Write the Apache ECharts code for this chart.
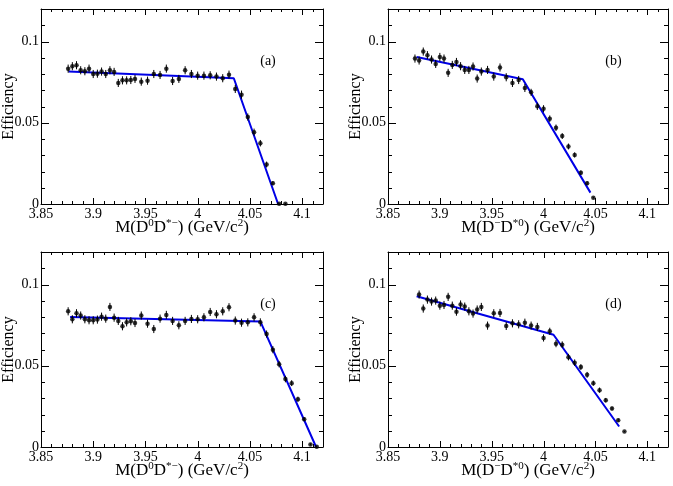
<!DOCTYPE html>
<html>
<head>
<meta charset="utf-8">
<script src="https://cdn.jsdelivr.net/npm/echarts@6/dist/echarts.min.js"></script>
<style>html,body{margin:0;padding:0;background:#fff;}#c{width:673px;height:486px;}</style>
</head>
<body>
<div id="c"></div>
<script>
// ---- data ----
const xTicks = [3.85, 3.9, 3.95, 4, 4.05, 4.1];
const yTicks = [0, 0.05, 0.1];

const xA = [3.876,3.880,3.884,3.888,3.892,3.896,3.900,3.904,3.908,3.912,3.916,3.920,3.924,3.928,3.932,3.936,3.940,3.946,3.952,3.958,3.964,3.970,3.976,3.982,3.988,3.994,4.000,4.006,4.012,4.018,4.024,4.030,4.036,4.042,4.048,4.054,4.060,4.066,4.072,4.078,4.084];
const yA = [0.0833,0.0848,0.0854,0.0823,0.0817,0.0833,0.0800,0.0802,0.0815,0.0800,0.0823,0.0813,0.0745,0.0761,0.0761,0.0763,0.0770,0.0753,0.0759,0.0800,0.0794,0.0833,0.0757,0.0770,0.0823,0.0800,0.0790,0.0790,0.0792,0.0784,0.0774,0.0796,0.0708,0.0673,0.0535,0.0442,0.0374,0.0243,0.0128,0.0002,0.0002];
const eA = [0.0025,0.0025,0.0025,0.0025,0.0025,0.0025,0.0025,0.0025,0.0025,0.0025,0.0025,0.0025,0.0025,0.0025,0.0025,0.0025,0.0025,0.0025,0.0025,0.0025,0.0025,0.0025,0.0025,0.0025,0.0025,0.0025,0.0025,0.0025,0.0025,0.0025,0.0025,0.0025,0.0025,0.0025,0.0022,0.0022,0.0020,0.0018,0.0012,0.0004,0.0004];
const fitXA = [3.8763, 4.0346, 4.0770];
const fitYA = [0.0815, 0.0774, 0.0];

const xB = [3.876,3.880,3.884,3.888,3.892,3.896,3.900,3.904,3.908,3.912,3.916,3.920,3.924,3.928,3.932,3.936,3.940,3.946,3.952,3.958,3.964,3.970,3.976,3.982,3.988,3.994,4.000,4.006,4.012,4.018,4.024,4.030,4.036,4.042,4.048];
const yB = [0.0895,0.0883,0.0938,0.0916,0.0889,0.0862,0.0905,0.0895,0.0807,0.0856,0.0874,0.0848,0.0825,0.0825,0.0846,0.0772,0.0815,0.0825,0.0784,0.0840,0.0780,0.0745,0.0763,0.0714,0.0687,0.0601,0.0586,0.0525,0.0469,0.0418,0.0354,0.0302,0.0193,0.0128,0.0039];
const eB = [0.0025,0.0025,0.0025,0.0025,0.0025,0.0025,0.0025,0.0025,0.0025,0.0025,0.0025,0.0025,0.0025,0.0025,0.0025,0.0025,0.0025,0.0025,0.0025,0.0025,0.0025,0.0025,0.0025,0.0025,0.0022,0.0022,0.0022,0.0020,0.0020,0.0018,0.0018,0.0016,0.0014,0.0012,0.0005];
const fitXB = [3.8776, 3.9800, 4.0452];
const fitYB = [0.0905, 0.0768, 0.0070];

const xC = [3.876,3.880,3.884,3.888,3.892,3.896,3.900,3.904,3.908,3.912,3.916,3.920,3.924,3.928,3.932,3.936,3.940,3.946,3.952,3.958,3.964,3.970,3.976,3.982,3.988,3.994,4.000,4.006,4.012,4.018,4.024,4.030,4.036,4.042,4.048,4.054,4.060,4.066,4.072,4.078,4.084,4.090,4.096,4.102,4.108,4.114];
const yC = [0.0835,0.0786,0.0823,0.0809,0.0786,0.0780,0.0780,0.0784,0.0802,0.0790,0.0862,0.0796,0.0776,0.0743,0.0767,0.0774,0.0763,0.0809,0.0759,0.0726,0.0790,0.0813,0.0776,0.0749,0.0776,0.0788,0.0786,0.0798,0.0831,0.0817,0.0835,0.0860,0.0778,0.0765,0.0767,0.0798,0.0767,0.0695,0.0599,0.0510,0.0418,0.0393,0.0294,0.0171,0.0016,0.0002];
const eC = [0.0025,0.0025,0.0025,0.0025,0.0025,0.0025,0.0025,0.0025,0.0025,0.0025,0.0025,0.0025,0.0025,0.0025,0.0025,0.0025,0.0025,0.0025,0.0025,0.0025,0.0025,0.0025,0.0025,0.0025,0.0025,0.0025,0.0025,0.0025,0.0025,0.0025,0.0025,0.0025,0.0025,0.0025,0.0025,0.0025,0.0025,0.0022,0.0022,0.0020,0.0020,0.0018,0.0016,0.0012,0.0006,0.0003];
const fitXC = [3.8779, 4.0601, 4.1134];
const fitYC = [0.0800, 0.0772, 0.0];

const xD = [3.880,3.884,3.888,3.892,3.896,3.900,3.904,3.908,3.912,3.916,3.920,3.924,3.928,3.932,3.936,3.940,3.946,3.952,3.958,3.964,3.970,3.976,3.982,3.988,3.994,4.000,4.006,4.012,4.018,4.024,4.030,4.036,4.042,4.048,4.054,4.060,4.066,4.072,4.078];
const yD = [0.0938,0.0852,0.0907,0.0895,0.0901,0.0870,0.0874,0.0924,0.0870,0.0833,0.0877,0.0864,0.0835,0.0821,0.0846,0.0862,0.0747,0.0823,0.0825,0.0745,0.0761,0.0755,0.0765,0.0747,0.0739,0.0671,0.0712,0.0636,0.0630,0.0553,0.0519,0.0492,0.0444,0.0393,0.0350,0.0288,0.0237,0.0165,0.0095];
const eD = [0.0025,0.0025,0.0025,0.0025,0.0025,0.0025,0.0025,0.0025,0.0025,0.0025,0.0025,0.0025,0.0025,0.0025,0.0025,0.0025,0.0025,0.0025,0.0025,0.0025,0.0025,0.0025,0.0025,0.0025,0.0025,0.0022,0.0022,0.0022,0.0020,0.0020,0.0020,0.0018,0.0018,0.0016,0.0016,0.0014,0.0012,0.0010,0.0003];
const fitXD = [3.8776, 4.0096, 4.0729];
const fitYD = [0.0928, 0.0691, 0.0126];

const panelLabels = ['(a)', '(b)', '(c)', '(d)'];
const yTitle = 'Efficiency';

// ---- layout ----
const FONT = 'Liberation Serif';
const grids = [
  {left: 41, top: 9, width: 282, height: 195},
  {left: 388, top: 9, width: 280, height: 195},
  {left: 41, top: 252, width: 282, height: 195},
  {left: 388, top: 252, width: 280, height: 195}
];
const panels = [
  {x: xA, y: yA, e: eA, fx: fitXA, fy: fitYA},
  {x: xB, y: yB, e: eB, fx: fitXB, fy: fitYB},
  {x: xC, y: yC, e: eC, fx: fitXC, fy: fitYC},
  {x: xD, y: yD, e: eD, fx: fitXD, fy: fitYD}
];
const XMIN = 3.85, XMAX = 4.12, XINT = 0.05;
const YMIN = 0, YMAX = 0.12, YINT = 0.05;
const K = '#000';

const xAxes = [], yAxes = [], series = [];
grids.forEach((g, i) => {
  xAxes.push({type: 'value', gridIndex: i, position: 'bottom', min: XMIN, max: XMAX, interval: XINT,
    axisLine: {show: true, onZero: false, lineStyle: {color: K, width: 1}},
    splitLine: {show: false}, axisTick: {show: false}, minorTick: {show: false},
    axisLabel: {show: true, margin: 3, showMaxLabel: false, color: '#000', fontFamily: FONT, fontSize: 14,
      formatter: v => { const r = Math.round(v * 100) / 100; return xTicks.indexOf(r) >= 0 ? String(r) : ''; }}
  });
  xAxes.push({type: 'value', gridIndex: i, position: 'top', min: XMIN, max: XMAX, interval: XINT,
    axisLine: {show: true, onZero: false, lineStyle: {color: K, width: 1}},
    splitLine: {show: false}, axisTick: {show: false}, minorTick: {show: false}, axisLabel: {show: false}
  });
  yAxes.push({type: 'value', gridIndex: i, position: 'left', min: YMIN, max: YMAX, interval: YINT,
    axisLine: {show: true, onZero: false, lineStyle: {color: K, width: 1}},
    splitLine: {show: false}, axisTick: {show: false}, minorTick: {show: false},
    axisLabel: {show: true, margin: 2, showMaxLabel: false, color: '#000', fontFamily: FONT, fontSize: 14,
      formatter: v => { const r = Math.round(v * 1000) / 1000; return yTicks.indexOf(r) >= 0 ? String(r) : ''; }}
  });
  yAxes.push({type: 'value', gridIndex: i, position: 'right', min: YMIN, max: YMAX, interval: YINT,
    axisLine: {show: true, onZero: false, lineStyle: {color: K, width: 1}},
    splitLine: {show: false}, axisTick: {show: false}, minorTick: {show: false}, axisLabel: {show: false}
  });
  const p = panels[i];
  series.push({
    type: 'line', xAxisIndex: 2 * i, yAxisIndex: 2 * i, data: p.fx.map((v, k) => [v, p.fy[k]]), showSymbol: false,
    lineStyle: {color: '#0000e6', width: 2}, z: 2, silent: true, animation: false
  });
  series.push({
    type: 'custom', xAxisIndex: 2 * i, yAxisIndex: 2 * i, data: p.x.map((v, k) => [v, p.y[k], p.e[k]]), encode: {x: 0, y: 1},
    renderItem: (params, api) => {
      const x = api.value(0), y = api.value(1), e = api.value(2);
      const lo = api.coord([x, Math.max(0, y - e)]);
      const hi = api.coord([x, y + e]);
      return {type: 'line', shape: {x1: lo[0], y1: lo[1], x2: hi[0], y2: hi[1]},
        style: {stroke: '#000', lineWidth: 1}};
    }, z: 3, silent: true, animation: false
  });
  series.push({
    type: 'scatter', xAxisIndex: 2 * i, yAxisIndex: 2 * i,
    data: p.x.map((v, k) => [v, p.y[k]]), symbol: 'circle', symbolSize: 4.5,
    itemStyle: {color: '#000'}, z: 4, silent: true, animation: false
  });
});

// ---- titles ----
const supRich = {
  n: {fontFamily: FONT, fontSize: 17, color: '#000', lineHeight: 20},
  s: {fontFamily: FONT, fontSize: 11, color: '#000', lineHeight: 20, verticalAlign: 'top'}
};
const xTitleTop = '{n|M(D}{s|0}{n|D}{s|*−}{n|) (GeV/c}{s|2}{n|)}';
const xTitleBot = '{n|M(D}{s|−}{n|D}{s|*0}{n|) (GeV/c}{s|2}{n|)}';
const xTitles = [xTitleTop, xTitleBot, xTitleTop, xTitleBot];

const graphic = [];
grids.forEach((g, i) => {
  graphic.push({
    type: 'text', x: g.left + g.width / 2, y: g.top + g.height + 24,
    style: {text: xTitles[i], rich: supRich, align: 'center', verticalAlign: 'middle'}, z: 10
  });
  graphic.push({
    type: 'text', x: g.left - 32, y: g.top + g.height / 2, rotation: Math.PI / 2,
    style: {text: yTitle, fontFamily: FONT, fontSize: 16, fill: '#000', align: 'center', verticalAlign: 'middle'}, z: 10
  });
  graphic.push({
    type: 'text', x: g.left + g.width * 0.805, y: g.top + 52,
    style: {text: panelLabels[i], fontFamily: FONT, fontSize: 14, fill: '#000', align: 'center', verticalAlign: 'middle'}, z: 10
  });
});

const chart = echarts.init(document.getElementById('c'));
chart.setOption({
  backgroundColor: '#fff',
  animation: false,
  grid: grids,
  xAxis: xAxes,
  yAxis: yAxes,
  series: series
});

// ---- frame ticks (every 0.01, longer at the labelled values), placed through the axes' scales ----
const crisp = v => Math.round(v) + 0.5;
const tickEls = [];
grids.forEach((g, i) => {
  const finder = {xAxisIndex: 2 * i, yAxisIndex: 2 * i};
  const left = g.left, right = g.left + g.width, top = g.top, bottom = g.top + g.height;
  for (let k = 1; k <= 26; k++) {
    const v = Math.round((XMIN + k * 0.01) * 1000) / 1000;
    const px = chart.convertToPixel(finder, [v, YMIN]);
    if (!px) continue;
    const x = crisp(px[0]);
    const len = k % 5 === 0 ? 6 : 3;
    tickEls.push({type: 'line', silent: true, z: 20, shape: {x1: x, y1: bottom, x2: x, y2: bottom - len}, style: {stroke: K, lineWidth: 1}});
    tickEls.push({type: 'line', silent: true, z: 20, shape: {x1: x, y1: top, x2: x, y2: top + len}, style: {stroke: K, lineWidth: 1}});
  }
  for (let k = 1; k <= 11; k++) {
    const v = Math.round((YMIN + k * 0.01) * 1000) / 1000;
    const px = chart.convertToPixel(finder, [XMIN, v]);
    if (!px) continue;
    const y = crisp(px[1]);
    const len = k % 5 === 0 ? 8 : 4;
    tickEls.push({type: 'line', silent: true, z: 20, shape: {x1: left, y1: y, x2: left + len, y2: y}, style: {stroke: K, lineWidth: 1}});
    tickEls.push({type: 'line', silent: true, z: 20, shape: {x1: right, y1: y, x2: right - len, y2: y}, style: {stroke: K, lineWidth: 1}});
  }
});

chart.setOption({graphic: graphic.concat(tickEls)});
</script>
</body>
</html>
